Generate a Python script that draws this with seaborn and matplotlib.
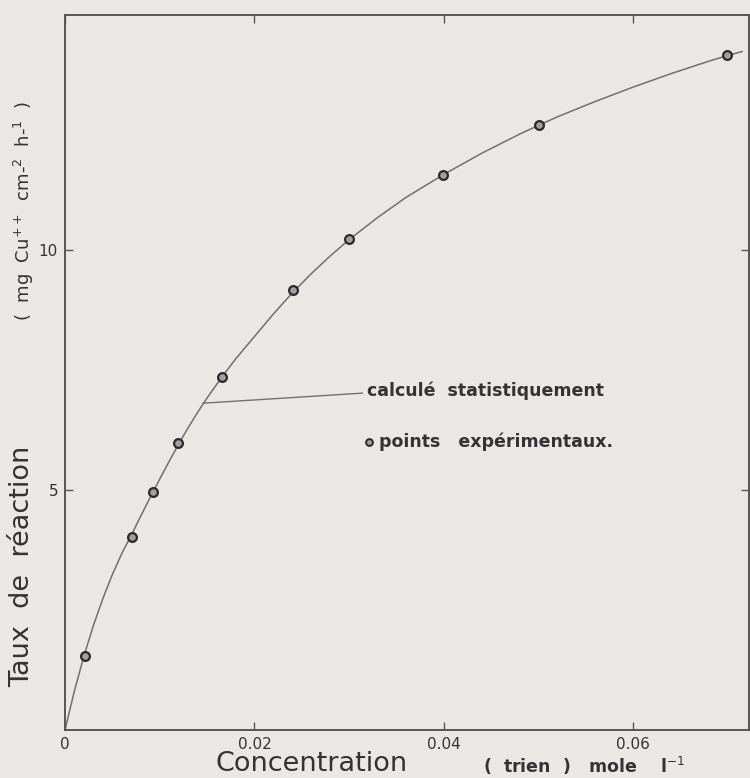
import numpy as np
import pandas as pd
import matplotlib
matplotlib.use("Agg")
import matplotlib.pyplot as plt
import seaborn as sns

# Experimental points: concentration of trien (mol/l) vs reaction rate
conc_points = [0.0021, 0.0071, 0.0093, 0.0119, 0.0166, 0.0241, 0.0300, 0.0399, 0.0500, 0.0699]
rate_points = [1.54, 4.02, 4.96, 5.98, 7.35, 9.17, 10.23, 11.56, 12.60, 14.06]

# Statistically computed curve, sampled along its trace
conc_curve = [0.0, 0.001, 0.002, 0.003, 0.004, 0.005, 0.006, 0.007, 0.008, 0.009,
              0.010, 0.011, 0.012, 0.013, 0.014, 0.015, 0.016, 0.017, 0.018,
              0.020, 0.022, 0.024, 0.026, 0.028, 0.030, 0.033, 0.036, 0.040,
              0.044, 0.048, 0.052, 0.056, 0.060, 0.064, 0.068, 0.070, 0.0715]
rate_curve = [0.0, 0.82, 1.54, 2.18, 2.74, 3.24, 3.68, 4.06, 4.46, 4.85,
              5.23, 5.60, 5.96, 6.30, 6.62, 6.92, 7.20, 7.47, 7.73,
              8.20, 8.67, 9.11, 9.51, 9.88, 10.22, 10.68, 11.10, 11.58,
              12.02, 12.42, 12.78, 13.10, 13.40, 13.68, 13.94, 14.06, 14.14]

x_ticks = [0, 0.02, 0.04, 0.06]
x_tick_labels = ["0", "0.02", "0.04", "0.06"]
y_ticks = [5, 10]
y_tick_labels = ["5", "10"]

BG = "#e9e8e5"
INK = "#333333"

sns.set_theme(style="white")
plt.rcParams["font.family"] = ["DejaVu Sans"]

fig = plt.figure(figsize=(7.5, 7.78), dpi=100, facecolor=BG)
ax = fig.add_axes([65 / 750, 48 / 778, 684 / 750, 715 / 778])
ax.set_facecolor(BG)

curve_df = pd.DataFrame({"conc": conc_curve, "rate": rate_curve})
pts_df = pd.DataFrame({"conc": conc_points, "rate": rate_points})

sns.lineplot(data=curve_df, x="conc", y="rate", sort=False, estimator=None,
             color="#707070", linewidth=1.1, ax=ax)
sns.scatterplot(data=pts_df, x="conc", y="rate", s=40, marker="o",
                facecolor="#a0a0a0", edgecolor="#2a2a2a", linewidth=1.6,
                ax=ax, zorder=5)

ax.set_xlim(0, 0.0722)
ax.set_ylim(0, 14.9)

ax.set_xticks(x_ticks)
ax.set_xticklabels(x_tick_labels)
ax.set_yticks(y_ticks)
ax.set_yticklabels(y_tick_labels)
ax.tick_params(axis="both", which="both", direction="in", length=6, width=1.0,
               color="#555555", labelsize=11, labelcolor=INK,
               top=True, right=True, bottom=True, left=True, pad=5)
ax.set_xlabel("")
ax.set_ylabel("")

for sp in ax.spines.values():
    sp.set_visible(True)
    sp.set_color("#555555")
    sp.set_linewidth(1.4)

# Leader line and annotation text
ax.plot([0.01456, 0.0314], [6.81, 7.02], color="#707070", linewidth=1.0)
ax.text(0.0319, 7.06, "calculé  statistiquement", fontsize=12.5, color=INK,
        ha="left", va="center", fontweight="bold")
ax.scatter([0.0321], [6.0], s=24, facecolor="#a0a0a0", edgecolor="#2a2a2a",
           linewidth=1.4, zorder=5)
ax.text(0.0331, 6.0, "points   expérimentaux.", fontsize=12.5, color=INK,
        ha="left", va="center", fontweight="bold")

# Axis titles
fig.text(312 / 750, 1 - 764 / 778, "Concentration", fontsize=19.5, color=INK,
         ha="center", va="center")
fig.text(483 / 750, 1 - 766 / 778, "(  trien  )   mole    l$^{-1}$", fontsize=12.5,
         color=INK, ha="left", va="center", fontweight="bold")
fig.text(22 / 750, 1 - 566 / 778, "Taux  de  réaction", fontsize=19.5, color=INK,
         ha="center", va="center", rotation=90)
fig.text(24 / 750, 1 - 211 / 778, "(  mg  Cu$^{++}$  cm-$^{2}$  h-$^{1}$  )",
         fontsize=13, color=INK, ha="center", va="center", rotation=90)

fig.savefig("out.png", dpi=100, facecolor=BG)
